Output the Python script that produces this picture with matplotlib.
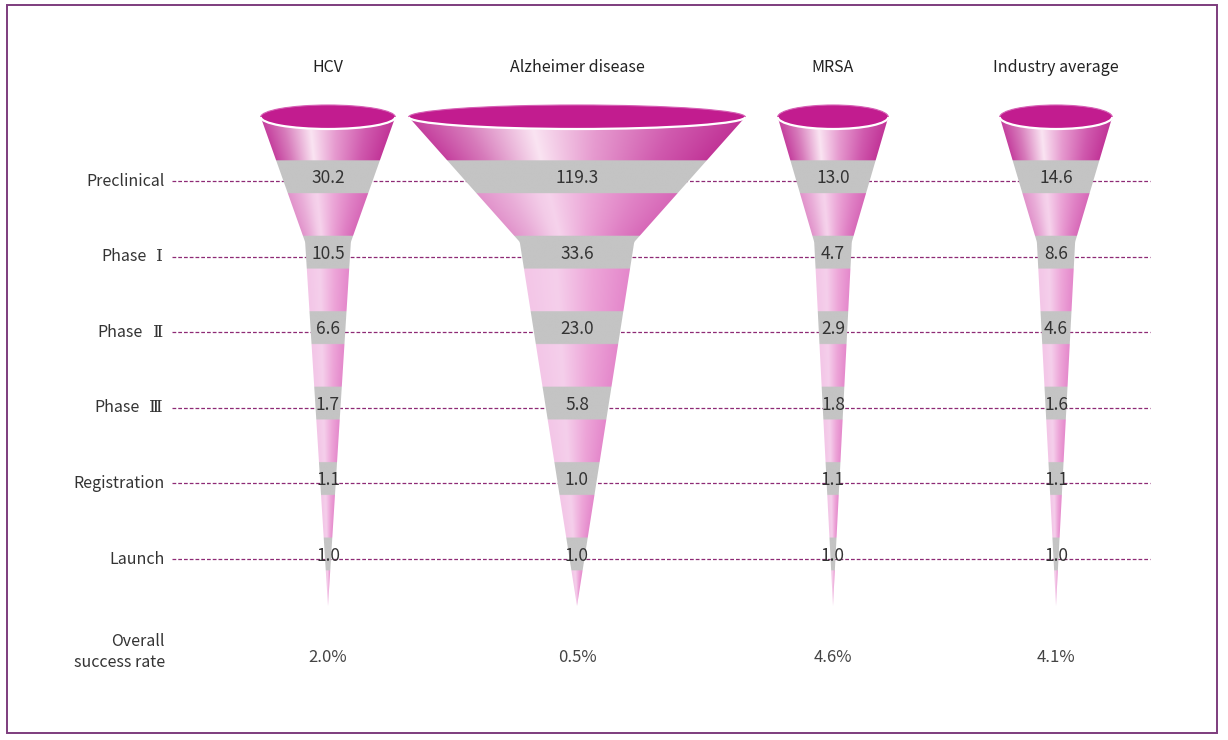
"""Drug development funnels: number of compounds needed per launch, by stage
"""

import numpy as np
from matplotlib import pyplot as plt
from matplotlib.patches import Ellipse, Arc, Polygon, Rectangle
from matplotlib.colors import to_rgb

plt.rcParams['font.family'] = ['Noto Sans CJK KR', 'DejaVu Sans']

columns = ['HCV', 'Alzheimer disease', 'MRSA', 'Industry average']
stages = ['Preclinical', 'Phase \u2160', 'Phase \u2161', 'Phase \u2162', 'Registration', 'Launch']
hcv = [30.2, 10.5, 6.6, 1.7, 1.1, 1.0]
alzheimer = [119.3, 33.6, 23.0, 5.8, 1.0, 1.0]
mrsa = [13.0, 4.7, 2.9, 1.8, 1.1, 1.0]
industry = [14.6, 8.6, 4.6, 1.6, 1.1, 1.0]
success_rate = [2.0, 0.5, 4.6, 4.1]

series = [hcv, alzheimer, mrsa, industry]

# layout (pixel units, y grows downward)
col_x = [328, 577, 833, 1056]
row_y0, row_step = 181, 75.6
y_top, y_neck, y_tip = 117, 242, 606
band_up, band_down = 21, 12

strong = [(0.0, '#C5409E'), (0.15, '#D77BBB'), (0.36, '#FAE4F2'),
          (0.56, '#E69ACF'), (0.8, '#D05AAE'), (1.0, '#C13497')]
pale = [(0.0, '#F3C6E7'), (0.3, '#F5CFEB'), (0.65, '#EDA5D8'), (1.0, '#E487CB')]
gray = np.array(to_rgb('#C4C4C4'))


def profile(stops, u):
    pos = [s[0] for s in stops]
    cols = np.array([to_rgb(s[1]) for s in stops])
    return np.stack([np.interp(u, pos, cols[:, k]) for k in range(3)], axis=-1)


def top_width(v):
    # funnel opening grows with the preclinical count
    return 100 + 0.293 * v ** 1.4


plt.close("all")
fig = plt.figure(figsize=(12.28, 7.40), dpi=100)
ax = fig.add_axes([0, 0, 1, 1])
ax.set_xlim(0, 1228)
ax.set_ylim(740, 0)
ax.axis('off')

line_y = [row_y0 + i * row_step for i in range(len(stages))]

# stage labels and dashed guide lines
for name, y in zip(stages, line_y):
    if name.startswith('Phase '):
        # roman numeral in a serif face, like the original
        num = ax.text(163, y, name.split(' ')[1], ha='right', va='center', fontsize=12.5,
                      color='#333333', family=['DejaVu Serif'])
        ax.annotate(name.split(' ')[0], xy=(0, 0.5), xycoords=num, xytext=(-7, 0),
                    textcoords='offset points', ha='right', va='center',
                    fontsize=11.5, color='#333333')
    else:
        ax.text(165, y, name, ha='right', va='center', fontsize=11.5, color='#333333')
    ax.plot([172, 1150], [y, y], color='#8E2A75', lw=0.9, ls=(0, (3, 1.6)), zorder=1)

ax.text(165, 652, 'Overall\nsuccess rate', ha='right', va='center', fontsize=11.5,
        color='#333333', linespacing=1.25)

for cx, name, vals, rate in zip(col_x, columns, series, success_rate):
    W = top_width(vals[0])
    N = W * 0.34
    ax.text(cx, 68, name, ha='center', va='center', fontsize=11.5, color='#222222')
    ax.text(cx, 658, f'{rate:.1f}%', ha='center', va='center', fontsize=12, color='#444444')

    def hw(y):
        return np.interp(y, [y_top, y_neck, y_tip], [W / 2, N / 2, 0.0])

    ys = np.linspace(y_top, y_tip, 300)
    verts = np.concatenate([np.column_stack([cx - hw(ys), ys]),
                            np.column_stack([cx + hw(ys), ys])[::-1]])
    outline = Polygon(verts, closed=True, facecolor='none', edgecolor='none')
    ax.add_patch(outline)

    # shaded body: gradient across the cone, gray bands at each stage
    nx, ny = 400, 700
    gx = np.linspace(cx - W / 2, cx + W / 2, nx)
    gy = np.linspace(y_top, y_tip, ny)
    XX, YY = np.meshgrid(gx, gy)
    h = np.maximum(hw(YY), 1e-6)
    u = np.clip((XX - (cx - h)) / (2 * h), 0, 1)
    n_above = sum((YY >= y - band_up).astype(int) for y in line_y)
    t = np.where(n_above == 0, 1.0, np.where(n_above == 1, 0.38, 0.0))[..., None]
    img = t * profile(strong, u) + (1 - t) * profile(pale, u)
    in_band = np.zeros_like(YY, dtype=bool)
    for y in line_y:
        in_band |= (YY >= y - band_up) & (YY <= y + band_down)
    img[in_band] = gray
    im = ax.imshow(img, extent=(cx - W / 2, cx + W / 2, y_tip, y_top), origin='upper',
                   aspect='auto', interpolation='bilinear', zorder=2)
    im.set_clip_path(outline)

    # funnel opening
    ax.add_patch(Ellipse((cx, y_top), W, 24, facecolor='#C21C8F',
                         edgecolor='#D660B4', lw=0.8, zorder=3))
    ax.add_patch(Arc((cx, y_top), W, 24, theta1=0, theta2=180,
                     color='white', lw=1.6, zorder=4))

    for v, y in zip(vals, line_y):
        ax.text(cx, y - 3, f'{v:.1f}', ha='center', va='center', fontsize=12.5,
                color='#333333', zorder=5)

ax.set_xlim(0, 1228)
ax.set_ylim(740, 0)

# outer frame
ax.add_patch(Rectangle((7, 5), 1210, 728, fill=False, edgecolor='#7D3C7D', lw=1.4, zorder=6))

fig.savefig('out.png', dpi=100)
